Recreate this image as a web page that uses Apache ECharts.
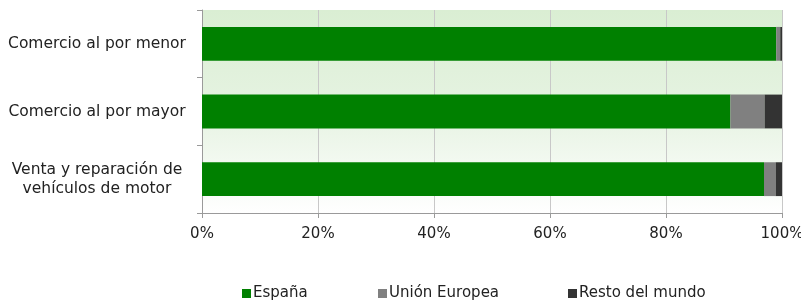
<!DOCTYPE html>
<html><head><meta charset="utf-8">
<script src="https://cdn.jsdelivr.net/npm/echarts@6/dist/echarts.min.js"></script>
<style>html,body{margin:0;padding:0;background:#fff}#c{width:801px;height:302px}</style>
</head><body><div id="c"></div>
<script>
const categories = ['Comercio al por menor', 'Comercio al por mayor', 'Venta y reparación de\nvehículos de motor'];
const espana = [99.0, 91.1, 96.9];
const unionEuropea = [0.7, 5.9, 2.0];
const restoMundo = [0.3, 3.0, 1.1];
const xTicks = [0, 20, 40, 60, 80, 100];

const font = '"DejaVu Sans", sans-serif';
const chart = echarts.init(document.getElementById('c'), null, {renderer: 'canvas'});
const mk = (name, data, color) => ({
  name, type: 'bar', stack: 'a', data, barWidth: '50%',
  itemStyle: {color}, emphasis: {disabled: true}
});
const legendBase = {top: 281, itemWidth: 9, itemHeight: 9, itemGap: 0, icon: 'rect',
  textStyle: {fontFamily: font, fontSize: 15, color: '#222', padding: [0, 0, 0, -3]}};
chart.setOption({
  animation: false,
  grid: {left: 202, right: 19, top: 10, bottom: 89, show: true, borderWidth: 0,
    outerBoundsMode: 'none', containLabel: false,
    backgroundColor: new echarts.graphic.LinearGradient(0, 0, 0, 1, [
      {offset: 0, color: '#daeed3'}, {offset: 0.5, color: '#e6f3e2'}, {offset: 1, color: '#ffffff'}])},
  xAxis: {type: 'value', min: 0, max: 100, interval: 20,
    axisLine: {show: true, lineStyle: {color: '#9a9a9a'}},
    axisTick: {show: true, length: 5, lineStyle: {color: '#9a9a9a'}},
    splitLine: {show: true, lineStyle: {color: '#c8c8c8'}},
    axisLabel: {formatter: v => xTicks.includes(v) ? v + '%' : '', fontFamily: font, fontSize: 15, color: '#222', margin: 14}},
  yAxis: {type: 'category', data: categories, inverse: true,
    axisLine: {show: true, lineStyle: {color: '#9a9a9a'}},
    axisTick: {show: true, length: 5, lineStyle: {color: '#9a9a9a'}},
    axisLabel: {fontFamily: font, fontSize: 15.5, color: '#222', align: 'center', margin: 105, lineHeight: 19}},
  legend: [
    Object.assign({}, legendBase, {left: 237, data: ['España']}),
    Object.assign({}, legendBase, {left: 373, data: ['Unión Europea']}),
    Object.assign({}, legendBase, {left: 563, data: ['Resto del mundo']})
  ],
  series: [mk('España', espana, '#008000'), mk('Unión Europea', unionEuropea, '#808080'), mk('Resto del mundo', restoMundo, '#333333')]
});
</script></body></html>
